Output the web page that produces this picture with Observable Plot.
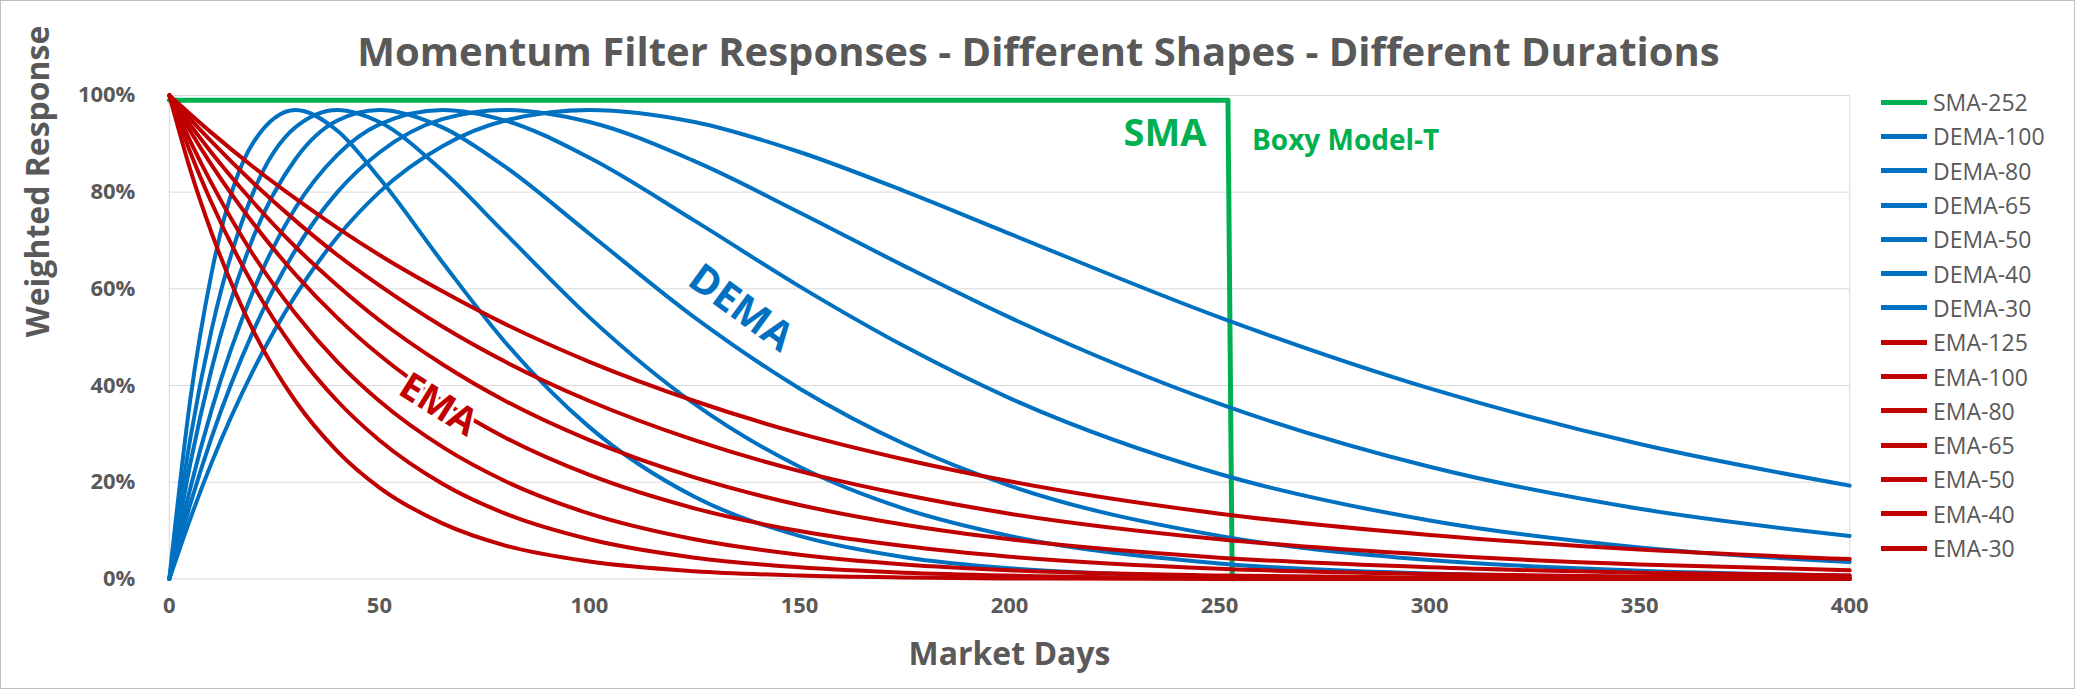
<!DOCTYPE html>
<html><head><meta charset="utf-8">
<script src="https://cdn.jsdelivr.net/npm/d3@7"></script>
<script src="https://cdn.jsdelivr.net/npm/@observablehq/plot@0.6"></script>
<style>
body{margin:0;background:#fff;font-family:"Open Sans",Lato,sans-serif;}
#wrap{position:relative;width:2073px;height:687px;border:1px solid #bfbfbf;}
#title{position:absolute;top:22px;left:0;width:2075px;text-align:center;font-size:40px;font-weight:bold;color:#595959;}
#legend{position:absolute;left:1880px;top:84px;font-size:23px;color:#595959;}
.li{height:34.3px;display:flex;align-items:center;}
.sw{width:46px;height:5px;margin-right:6px;}
</style></head><body>
<div id="wrap"><div id="chart"></div><div id="title">Momentum Filter Responses - Different Shapes - Different Durations</div><div id="legend"></div></div>
<script>
const days=[0,5,10,20,30,40,50,65,80,100,125,150,175,200,250,300,350,400];
const EMA30 =[100,84.6,71.7,51.3,36.8,26.4,18.9,11.5,6.9,3.6,1.6,0.7,0.3,0.1,0,0,0,0];
const EMA40 =[100,88.2,77.9,60.7,47.2,36.8,28.7,19.7,13.5,8.2,4.4,2.4,1.3,0.7,0.2,0.1,0,0];
const EMA50 =[100,90.5,81.9,67.0,54.9,44.9,36.8,27.3,20.2,13.5,8.2,5.0,3.0,1.8,0.7,0.25,0.1,0];
const EMA65 =[100,92.6,85.7,73.5,63.0,54.0,46.3,36.8,29.2,21.5,14.6,9.9,6.8,4.6,2.1,1.0,0.5,0.2];
const EMA80 =[100,93.9,88.2,77.9,68.7,60.7,53.5,44.4,36.8,28.7,21.0,15.3,11.2,8.2,4.4,2.4,1.3,0.7];
const EMA100=[100,95.1,90.5,81.9,74.1,67.0,60.7,52.2,44.9,36.8,28.7,22.3,17.4,13.5,8.2,5.0,3.0,1.8];
const EMA125=[100,96.1,92.3,85.2,78.7,72.6,67.0,59.5,52.7,44.9,36.8,30.1,24.7,20.2,13.5,9.1,6.1,4.1];
const DEMA30 =[0,37.2,63.0,90.3,97,92.7,82.9,65.5,48.9,31.4,17.0,8.9,4.5,2.2,0.5,0.1,0,0];
const DEMA40 =[0,29.1,51.3,80.0,93.4,97,94.5,84.4,71.4,54.1,36.2,23.2,14.5,8.9,3.2,1.1,0.4,0.1];
const DEMA50 =[0,23.9,43.2,70.7,86.8,94.8,97,93.4,85.2,71.4,54.1,39.4,27.9,19.3,8.9,3.9,1.7,0.7];
const DEMA65 =[0,18.8,34.8,59.6,76.7,87.7,94.0,97,94.8,87.1,74.1,60.5,48.1,37.4,21.7,12.1,6.5,3.5];
const DEMA80 =[0,15.5,29.1,51.3,68.0,80.0,88.2,95.1,97,94.5,86.4,75.8,64.7,54.1,36.2,23.2,14.5,8.9];
const DEMA100=[0,12.5,23.9,43.2,58.6,70.7,80.0,89.5,94.8,97,94.5,88.3,80.2,71.4,54.1,39.4,27.9,19.3];
const smaDays=[0,252,253];
const SMA252=[99,99,0];
const legendNames=["SMA-252","DEMA-100","DEMA-80","DEMA-65","DEMA-50","DEMA-40","DEMA-30","EMA-125","EMA-100","EMA-80","EMA-65","EMA-50","EMA-40","EMA-30"];
const GREEN="#00B050",BLUE="#0070C0",RED="#C00000";
const emaSeries=[EMA125,EMA100,EMA80,EMA65,EMA50,EMA40,EMA30];
const demaSeries=[DEMA100,DEMA80,DEMA65,DEMA50,DEMA40,DEMA30];
const toRows=(arr,xs)=>arr.map((v,i)=>({x:xs[i],y:v/100}));
const marks=[
  Plot.gridY([0.2,0.4,0.6,0.8],{stroke:"#d9d9d9",strokeOpacity:1}),
  Plot.frame({stroke:"#d9d9d9"}),
  Plot.axisX({ticks:[0,50,100,150,200,250,300,350,400],tickSize:0,tickPadding:18,fontSize:22,fontWeight:"bold",fill:"#595959",label:null}),
  Plot.axisY({ticks:[0,0.2,0.4,0.6,0.8,1],tickFormat:d3.format(".0%"),tickSize:0,tickPadding:34,fontSize:22,fontWeight:"bold",fill:"#595959",label:null}),
  Plot.line(toRows(SMA252,smaDays),{x:"x",y:"y",stroke:GREEN,strokeWidth:5}),
  ...demaSeries.map(s=>Plot.line(toRows(s,days),{x:"x",y:"y",stroke:BLUE,strokeWidth:4,curve:"monotone-x"})),
  ...emaSeries.map(s=>Plot.line(toRows(s,days),{x:"x",y:"y",stroke:RED,strokeWidth:4,curve:"monotone-x"})),
  Plot.text(["SMA"],{x:[237],y:[0.92],fill:GREEN,fontSize:38,fontWeight:"bold"}),
  Plot.text(["Boxy Model-T"],{x:[280],y:[0.905],fill:GREEN,fontSize:28,fontWeight:"bold"}),
  Plot.text(["DEMA"],{x:[136],y:[0.56],fill:BLUE,fontSize:40,fontWeight:"bold",rotate:36}),
  Plot.text(["EMA"],{x:[64],y:[0.36],fill:RED,fontSize:38,fontWeight:"bold",rotate:32,stroke:"white",strokeWidth:6,paintOrder:"stroke"}),
  Plot.text(["Market Days"],{frameAnchor:"bottom",dy:86,fill:"#595959",fontSize:32,fontWeight:"bold"}),
  Plot.text(["Weighted Response"],{frameAnchor:"left",dx:-131,rotate:-90,fill:"#595959",fontSize:32,fontWeight:"bold"})
];
const chart=Plot.plot({width:2075,height:689,marginTop:94,marginBottom:111,marginLeft:168,marginRight:225,
  style:{fontFamily:"'Open Sans',Lato,sans-serif",background:"transparent"},
  x:{domain:[0,400]},y:{domain:[0,1]},marks});
document.getElementById("chart").appendChild(chart);
const lg=document.getElementById("legend");
legendNames.forEach((n,i)=>{const c=i===0?GREEN:(i<7?BLUE:RED);
  lg.insertAdjacentHTML("beforeend",`<div class="li"><div class="sw" style="background:${c}"></div>${n}</div>`);});
</script></body></html>
